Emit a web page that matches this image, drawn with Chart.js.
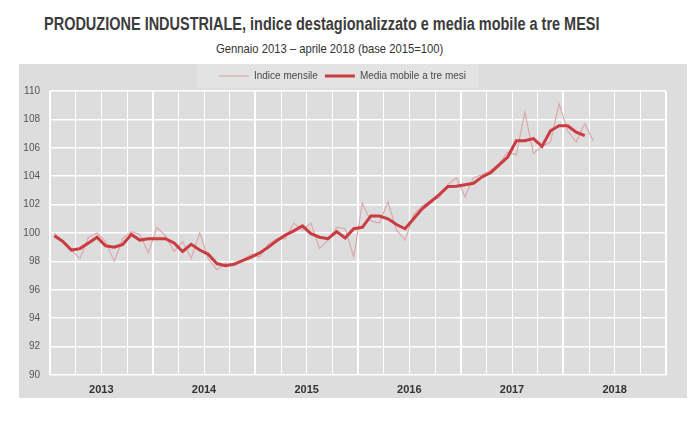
<!DOCTYPE html>
<html>
<head>
<meta charset="utf-8">
<script src="https://cdn.jsdelivr.net/npm/chart.js@4/dist/chart.umd.min.js"></script>
<style>
  html, body { margin: 0; padding: 0; background: #ffffff; }
  body { width: 696px; height: 421px; position: relative; overflow: hidden; font-family: "Liberation Sans", Arial, sans-serif; }
  #title { position: absolute; left: 44px; top: 14px; font-size: 18px; font-weight: bold; color: #3c3c3c; white-space: nowrap; transform-origin: 0 0; transform: scaleX(0.805); }
  #subtitle { position: absolute; left: 216px; top: 41px; font-size: 13px; color: #333; white-space: nowrap; transform-origin: 0 0; transform: scaleX(0.865); }
  #panel { position: absolute; left: 19px; top: 64px; width: 668px; height: 334px; background: #dddddd; }
  #c { position: absolute; left: 0; top: 0; }
</style>
</head>
<body>
<div id="title">PRODUZIONE INDUSTRIALE, indice destagionalizzato e media mobile a tre MESI</div>
<div id="subtitle">Gennaio 2013 – aprile 2018 (base 2015=100)</div>
<div id="panel"><canvas id="c" width="668" height="334"></canvas></div>
<script>
// Years shown on the x axis (each spans 12 monthly slots)
const years = ["2013", "2014", "2015", "2016", "2017", "2018"];
// Monthly index, January 2013 – April 2018
const indiceMensile = [
  100.0, 99.4, 98.8, 98.2, 99.7, 100.0, 99.4, 98.0, 99.6, 100.1, 99.9, 98.6,
  100.4, 99.8, 98.7, 99.4, 98.2, 100.0, 98.2, 97.4, 97.9, 97.7, 98.1, 98.5,
  98.3, 99.2, 99.6, 99.6, 100.7, 100.2, 100.7, 98.9, 99.5, 100.4, 100.3, 98.3,
  102.1, 100.85, 100.7, 102.2, 100.2, 99.5, 101.3, 101.9, 102.3, 102.5, 103.4, 103.9,
  102.55, 103.9, 104.1, 104.4, 104.9, 105.7, 105.5, 108.5, 105.6, 106.1, 106.4, 109.1,
  107.2, 106.4, 107.7, 106.5
];
// Three-month moving average, January 2013 – March 2018
const mediaMobile = [
  99.8, 99.4, 98.8, 98.9, 99.3, 99.7, 99.1, 99.0, 99.2, 99.9, 99.5, 99.6,
  99.6, 99.6, 99.3, 98.7, 99.2, 98.8, 98.5, 97.85, 97.7, 97.8, 98.05, 98.3,
  98.6, 99.0, 99.45, 99.85, 100.15, 100.5, 99.95, 99.7, 99.6, 100.1, 99.65, 100.3,
  100.4, 101.2, 101.2, 101.0, 100.6, 100.3, 101.0, 101.7, 102.2, 102.7, 103.27, 103.3,
  103.4, 103.5, 103.95, 104.25, 104.8, 105.35, 106.5, 106.5, 106.65, 106.1, 107.2, 107.55,
  107.55, 107.1, 106.85
];
const seriesNames = ["Indice mensile", "Media mobile a tre mesi"];

const toPoints = arr => arr.map((v, i) => ({ x: i + 0.5, y: v }));

const legendBg = {
  id: 'legendBg',
  beforeDraw(chart) {
    const lg = chart.legend;
    if (!lg || !lg.legendHitBoxes || !lg.legendHitBoxes.length) return;
    const boxes = lg.legendHitBoxes;
    const l = Math.min(...boxes.map(b => b.left)) - 22;
    const r = Math.max(...boxes.map(b => b.left + b.width)) + 13;
    const ctx = chart.ctx;
    ctx.save();
    ctx.fillStyle = '#e3e3e3';
    ctx.fillRect(l, 0, r - l, 24);
    ctx.restore();
  }
};

const tickFont = { family: '"Liberation Sans", Arial, sans-serif', size: 10 };

new Chart(document.getElementById('c'), {
  type: 'line',
  data: {
    datasets: [
      {
        label: seriesNames[0],
        data: toPoints(indiceMensile),
        borderColor: '#dba8ad',
        backgroundColor: '#dba8ad',
        borderWidth: 1.2,
        pointRadius: 0,
        tension: 0,
        order: 2
      },
      {
        label: seriesNames[1],
        data: toPoints(mediaMobile),
        borderColor: '#c83c42',
        backgroundColor: '#c83c42',
        borderWidth: 3,
        pointRadius: 0,
        tension: 0,
        order: 1
      }
    ]
  },
  options: {
    responsive: false,
    animation: false,
    devicePixelRatio: 1,
    layout: { padding: { left: 0, right: 21, top: 0, bottom: 0 } },
    plugins: {
      legend: {
        display: true,
        position: 'top',
        labels: {
          usePointStyle: true,
          pointStyle: 'line',
          pointStyleWidth: 30,
          boxHeight: 8,
          padding: 7,
          color: '#4a4a4a',
          font: { family: '"Liberation Sans", Arial, sans-serif', size: 10 },
          sort: (a, b) => a.datasetIndex - b.datasetIndex
        }
      },
      tooltip: { enabled: false }
    },
    scales: {
      x: {
        type: 'linear',
        min: 0,
        max: 72,
        afterFit: s => { s.height = 23; },
        grid: {
          color: '#ffffff',
          lineWidth: c => (c.tick && c.tick.value % 12 === 0) ? 2 : 1,
          drawTicks: false
        },
        border: { display: false },
        ticks: {
          stepSize: 3,
          autoSkip: false,
          maxRotation: 0,
          padding: 8,
          color: '#333',
          font: { family: '"Liberation Sans", Arial, sans-serif', size: 11, weight: 'bold' },
          callback: v => (v % 12 === 6) ? years[(v - 6) / 12] : ''
        }
      },
      y: {
        min: 90,
        max: 110,
        afterFit: s => { s.width = 31; },
        grid: { color: '#ffffff', lineWidth: 1.5, drawTicks: false },
        border: { display: false },
        ticks: {
          stepSize: 2,
          padding: 10,
          color: '#555',
          font: tickFont
        }
      }
    }
  },
  plugins: [legendBg]
});
</script>
</body>
</html>
